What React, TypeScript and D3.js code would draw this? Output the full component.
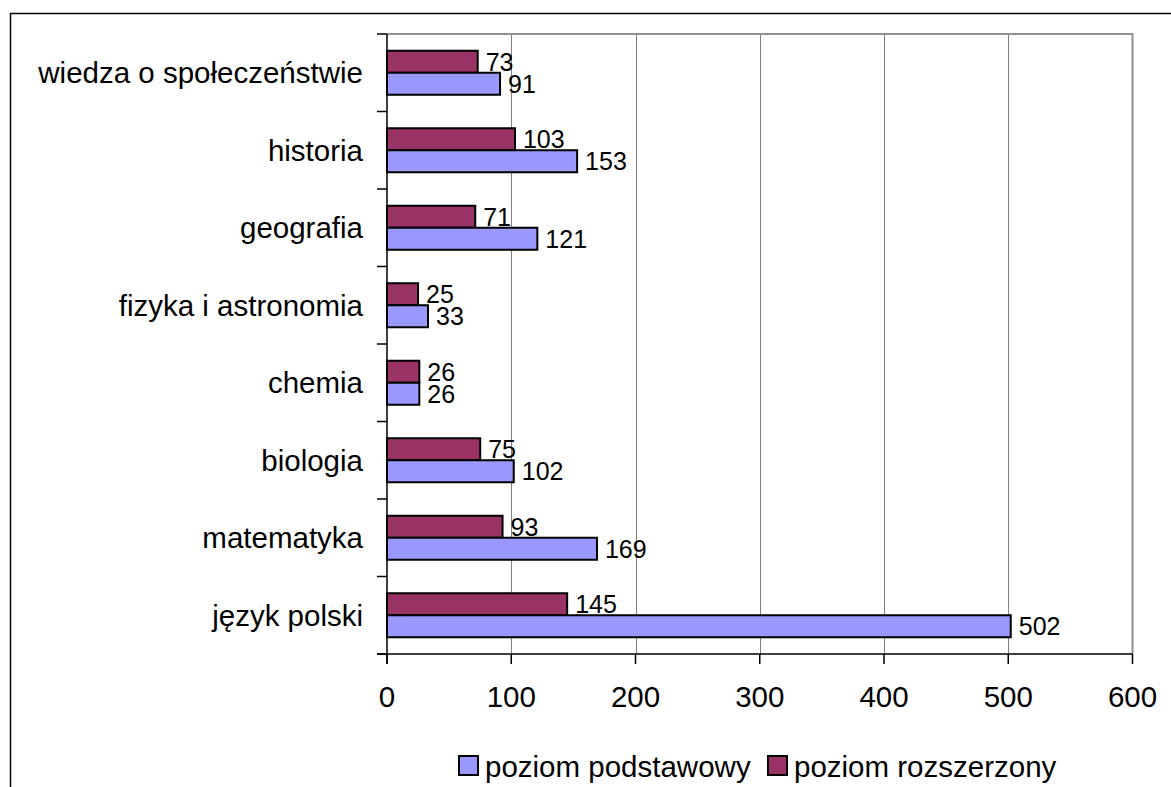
import * as d3 from 'd3'
import { useEffect, useRef } from 'react'

// kategorie od góry do dołu
const categories = [
	'wiedza o społeczeństwie',
	'historia',
	'geografia',
	'fizyka i astronomia',
	'chemia',
	'biologia',
	'matematyka',
	'język polski',
]
const podstawowy = [91, 153, 121, 33, 26, 102, 169, 502]
const rozszerzony = [73, 103, 71, 25, 26, 75, 93, 145]
const xTicks = [0, 100, 200, 300, 400, 500, 600]
const seriesNames = ['poziom podstawowy', 'poziom rozszerzony']
const seriesColors = ['#9999ff', '#993366']

const App = () => {
	const svgRef = useRef<SVGSVGElement>(null)

	const width = 1171
	const height = 787
	const marginLeft = 387
	const marginRight = 1132.5
	const marginTop = 34
	const plotBottom = 654
	const font = 'Arial, "Liberation Sans", sans-serif'
	const bigFont = 29.5
	const labelFont = 25

	useEffect(() => {
		d3.select(svgRef.current).selectAll('*').remove()
		const svg = d3.select(svgRef.current).attr('width', width).attr('height', height)

		// ramka wykresu
		svg.append('path')
			.attr('d', `M10.5,${height} V13.5 H${width}`)
			.attr('fill', 'none')
			.attr('stroke', '#000')
			.attr('stroke-width', 1.5)

		const x = d3.scaleLinear().domain([0, 600]).range([marginLeft, marginRight])
		const y = d3.scaleBand().domain(categories).range([marginTop, plotBottom])
		const inner = d3.scaleBand().domain(['r', 'p']).range([0, 44])

		// siatka
		svg.append('g')
			.selectAll('line')
			.data(xTicks.slice(1, -1))
			.join('line')
			.attr('x1', (d) => Math.round(x(d)) + 0.5)
			.attr('x2', (d) => Math.round(x(d)) + 0.5)
			.attr('y1', marginTop)
			.attr('y2', plotBottom)
			.attr('stroke', '#808080')
			.attr('stroke-width', 1)

		svg.append('path')
			.attr('d', `M${marginLeft},${marginTop} H${marginRight} V${plotBottom}`)
			.attr('fill', 'none')
			.attr('stroke', '#909090')
			.attr('stroke-width', 2)

		// słupki
		const rows = categories.map((c, i) => ({ c, p: podstawowy[i], r: rozszerzony[i] }))
		const g = svg.append('g')
		rows.forEach((d) => {
			const top = (y(d.c) as number) + y.bandwidth() / 2 - 22
			const items = [
				{ key: 'r', v: d.r, color: seriesColors[1] },
				{ key: 'p', v: d.p, color: seriesColors[0] },
			]
			items.forEach((it) => {
				const by = top + (inner(it.key) as number)
				g.append('rect')
					.attr('x', x(0))
					.attr('y', by)
					.attr('width', x(it.v) - x(0))
					.attr('height', inner.bandwidth())
					.attr('fill', it.color)
					.attr('stroke', '#000')
					.attr('stroke-width', 2)
				g.append('text')
					.attr('x', x(it.v) + 8)
					.attr('y', by + inner.bandwidth() / 2)
					.attr('dy', '0.36em')
					.attr('font-family', font)
					.attr('font-size', labelFont)
					.attr('fill', '#000')
					.text(it.v)
			})
		})

		// osie
		svg.append('line')
			.attr('x1', marginLeft)
			.attr('x2', marginLeft)
			.attr('y1', marginTop)
			.attr('y2', plotBottom + 10)
			.attr('stroke', '#000')
			.attr('stroke-width', 1.5)
		svg.append('line')
			.attr('x1', marginLeft - 10)
			.attr('x2', marginRight)
			.attr('y1', plotBottom)
			.attr('y2', plotBottom)
			.attr('stroke', '#000')
			.attr('stroke-width', 1.5)

		const bounds = categories.map((c) => y(c) as number).concat([plotBottom])
		svg.append('g')
			.selectAll('line')
			.data(bounds)
			.join('line')
			.attr('x1', marginLeft - 10)
			.attr('x2', marginLeft)
			.attr('y1', (d) => d)
			.attr('y2', (d) => d)
			.attr('stroke', '#000')
			.attr('stroke-width', 1.5)

		svg.append('g')
			.selectAll('line')
			.data(xTicks)
			.join('line')
			.attr('x1', (d) => x(d))
			.attr('x2', (d) => x(d))
			.attr('y1', plotBottom)
			.attr('y2', plotBottom + 10)
			.attr('stroke', '#000')
			.attr('stroke-width', 1.5)

		svg.append('g')
			.selectAll('text')
			.data(xTicks)
			.join('text')
			.attr('x', (d) => x(d))
			.attr('y', 696)
			.attr('dy', '0.36em')
			.attr('text-anchor', 'middle')
			.attr('font-family', font)
			.attr('font-size', bigFont)
			.text((d) => d)

		svg.append('g')
			.selectAll('text')
			.data(categories)
			.join('text')
			.attr('x', 363)
			.attr('y', (d) => (y(d) as number) + y.bandwidth() / 2)
			.attr('dy', '0.36em')
			.attr('text-anchor', 'end')
			.attr('font-family', font)
			.attr('font-size', bigFont)
			.text((d) => d)

		// legenda
		const legendX = [459, 768]
		seriesNames.forEach((name, i) => {
			svg.append('rect')
				.attr('x', legendX[i])
				.attr('y', 756)
				.attr('width', 19)
				.attr('height', 19)
				.attr('fill', seriesColors[i])
				.attr('stroke', '#000')
				.attr('stroke-width', 2)
			svg.append('text')
				.attr('x', legendX[i] + 26)
				.attr('y', 766)
				.attr('dy', '0.36em')
				.attr('font-family', font)
				.attr('font-size', bigFont)
				.text(name)
		})
	}, [])

	return (
		<>
			<svg ref={svgRef} style={{ position: 'absolute', left: 0, top: 0, background: '#fff' }}></svg>
		</>
	)
}

export default App
